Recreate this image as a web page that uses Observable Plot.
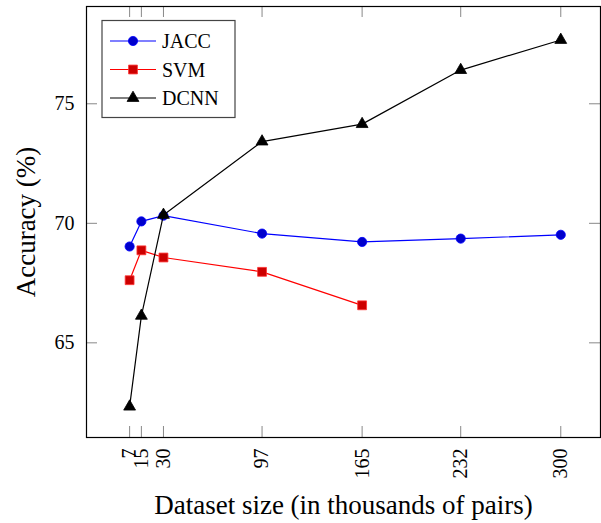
<!DOCTYPE html>
<html><head><meta charset="utf-8">
<script src="https://cdn.jsdelivr.net/npm/d3@7"></script>
<script src="https://cdn.jsdelivr.net/npm/@observablehq/plot@0.6"></script>
<style>body{margin:0;background:#fff}</style>
</head><body><div id="chart"></div>
<script>
const sizes = [7, 15, 30, 97, 165, 232, 300];
const jaccValues = [69.03, 70.08, 70.32, 69.57, 69.22, 69.36, 69.52];
const svmSizes = [7, 15, 30, 97, 165];
const svmValues = [67.62, 68.87, 68.57, 67.97, 66.57];
const dcnnValues = [62.33, 66.13, 70.35, 73.42, 74.15, 76.41, 77.67];
const xTicks = [7, 15, 30, 97, 165, 232, 300];
const yTicks = [65, 70, 75];
const seriesNames = ["JACC", "SVM", "DCNN"];
const xLabel = "Dataset size (in thousands of pairs)";
const yLabel = "Accuracy (%)";

const jacc = sizes.map((x, i) => ({x, y: jaccValues[i]}));
const svm = svmSizes.map((x, i) => ({x, y: svmValues[i]}));
const dcnn = sizes.map((x, i) => ({x, y: dcnnValues[i]}));

const W = 601, H = 523;
const mL = 86, mR = 1, mT = 6, mB = 86;
const pw = W - mL - mR, ph = H - mT - mB;
const tickLen = 11;
const font = "Liberation Serif, Times New Roman, serif";

const styles = [
  {line: "#0000ff", fill: "#0000cc", stroke: "#0000ff", symbol: d3.symbolCircle, r: 4.6},
  {line: "#ff0000", fill: "#cc0000", stroke: "#ff3333", symbol: d3.symbolSquare, r: 5.0},
  {line: "#000000", fill: "#000000", stroke: "#000000", symbol: d3.symbolTriangle, r: 4.4}
];

function legend(index, scales, values, dimensions) {
  const g = d3.create("svg:g");
  const x0 = dimensions.marginLeft + 16, y0 = dimensions.marginTop + 14.5;
  g.append("rect").attr("x", x0).attr("y", y0).attr("width", 133).attr("height", 97)
    .attr("fill", "white").attr("stroke", "#444").attr("stroke-width", 1.2);
  seriesNames.forEach((name, i) => {
    const s = styles[i];
    const cy = y0 + 20.5 + i * 28.5;
    g.append("line").attr("x1", x0 + 8).attr("x2", x0 + 54).attr("y1", cy).attr("y2", cy)
      .attr("stroke", s.line).attr("stroke-width", 1.2);
    g.append("path").attr("transform", `translate(${x0 + 31},${cy})`)
      .attr("d", d3.symbol(s.symbol, Math.PI * s.r * s.r)())
      .attr("fill", s.fill).attr("stroke", s.stroke).attr("stroke-width", 0.8);
    g.append("text").attr("x", x0 + 60).attr("y", cy + 7).text(name)
      .attr("font-size", 20).attr("fill", "black").attr("text-anchor", "start");
  });
  return g.node();
}

const seriesData = [jacc, svm, dcnn];
const dataMarks = [];
seriesData.forEach((d, i) => {
  const s = styles[i];
  dataMarks.push(Plot.line(d, {x: "x", y: "y", stroke: s.line, strokeWidth: 1.2}));
  dataMarks.push(Plot.dot(d, {x: "x", y: "y", symbol: () => ["circle", "square", "triangle"][i], r: s.r,
    fill: s.fill, stroke: s.stroke, strokeWidth: 0.8}));
});

const chart = Plot.plot({
  width: W, height: H,
  marginLeft: mL, marginRight: mR, marginTop: mT, marginBottom: mB,
  style: {fontFamily: font, background: "white", color: "black"},
  x: {domain: [-22.3, 327], axis: null},
  y: {domain: [61.04, 79.07], axis: null},
  symbol: {domain: ["circle", "square", "triangle"], range: ["circle", "square", "triangle"]},
  marks: [
    Plot.gridX(xTicks, {x: d => d, stroke: "#888", strokeOpacity: 1, insetTop: ph - tickLen}),
    Plot.gridX(xTicks, {x: d => d, stroke: "#888", strokeOpacity: 1, insetBottom: ph - tickLen}),
    Plot.gridY(yTicks, {y: d => d, stroke: "#888", strokeOpacity: 1, insetRight: pw - tickLen}),
    Plot.gridY(yTicks, {y: d => d, stroke: "#888", strokeOpacity: 1, insetLeft: pw - tickLen}),
    Plot.axisX({ticks: xTicks, tickSize: 0, tickPadding: 11, tickRotate: -90, fontSize: 20, label: null, tickFormat: d => String(d)}),
    Plot.axisY({ticks: yTicks, tickSize: 0, tickPadding: 12, fontSize: 20, label: null, tickFormat: d => String(d)}),
    ...dataMarks,
    Plot.frame({stroke: "black", strokeWidth: 1.2}),
    legend,
    Plot.text([xLabel], {text: d => d, frameAnchor: "bottom", dy: 68, fontSize: 27, lineAnchor: "middle", textAnchor: "middle"}),
    Plot.text([yLabel], {text: d => d, frameAnchor: "left", dx: -60, rotate: -90, fontSize: 27, lineAnchor: "middle", textAnchor: "middle"})
  ]
});
document.getElementById("chart").appendChild(chart);
</script>
</body></html>
